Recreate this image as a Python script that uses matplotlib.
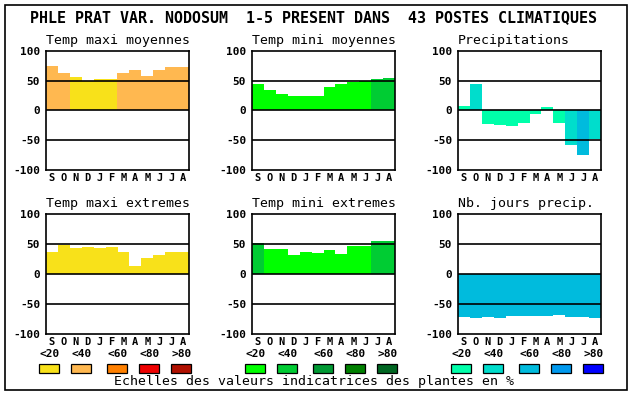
import matplotlib.pyplot as plt
from matplotlib.patches import Rectangle

# valeurs
mois = ["S", "O", "N", "D", "J", "F", "M", "A", "M", "J", "J", "A"]

temp_maxi_moy = [74, 62, 56, 50, 52, 52, 62, 67, 57, 67, 72, 72]
temp_maxi_moy_cls = [1, 1, 0, 0, 0, 0, 1, 1, 1, 1, 1, 1]

temp_mini_moy = [44, 34, 27, 25, 25, 25, 40, 44, 47, 49, 52, 55]
temp_mini_moy_cls = [0, 0, 0, 0, 0, 0, 0, 0, 0, 0, 1, 1]

precip = [7, 44, -23, -25, -26, -21, -6, 5, -21, -57, -75, -47]
precip_cls = [0, 1, 0, 0, 0, 0, 0, 0, 0, 1, 2, 1]

temp_maxi_ext = [37, 48, 43, 45, 43, 45, 37, 13, 27, 32, 37, 37]
temp_maxi_ext_cls = [0] * 12

temp_mini_ext = [52, 42, 42, 32, 37, 35, 40, 33, 47, 47, 55, 55]
temp_mini_ext_cls = [1, 0, 0, 0, 0, 0, 0, 0, 0, 0, 1, 1]

nb_jours = [-72, -73, -72, -73, -71, -71, -71, -71, -68, -72, -72, -73]
nb_jours_cls = [2] * 12

classes = ["<20", "<40", "<60", "<80", ">80"]
couleurs_temp = ["#F8E11A", "#FFB850", "#FF8000", "#EE0000", "#B01000"]
couleurs_vert = ["#00FF00", "#00CC33", "#009933", "#008000", "#006622"]
couleurs_bleu = ["#00FFAA", "#00DDCC", "#00BBDD", "#0099EE", "#0000FF"]

titre = "PHLE PRAT VAR. NODOSUM  1-5 PRESENT DANS  43 POSTES CLIMATIQUES"
pied = "Echelles des valeurs indicatrices des plantes en %"

W, H = 630, 394
MONO = "DejaVu Sans Mono"

fig = plt.figure(figsize=(W / 100, H / 100), dpi=100)

# fond en coordonnees pixel
bg = fig.add_axes([0, 0, 1, 1])
bg.set_xlim(0, W)
bg.set_ylim(H, 0)
bg.axis("off")


def panel(left, top, values, cls, pal, title):
    ax = fig.add_axes([left / W, 1 - (top + 119.5) / H, 143.6 / W, 119.5 / H])
    ax.bar(range(12), values, width=1.0, color=[pal[c] for c in cls],
           linewidth=0, zorder=1)
    for y in (50, 0, -50):
        ax.axhline(y, color="black", lw=1.2, zorder=2)
    ax.set_xlim(-0.5, 11.5)
    ax.set_ylim(-100, 100)
    ax.set_yticks([-100, -50, 0, 50, 100])
    ax.set_yticklabels(["-100", "-50", "0", "50", "100"],
                       family=MONO, weight="bold", fontsize=8)
    ax.set_xticks(range(12))
    ax.set_xticklabels(mois, family=MONO, weight="bold", fontsize=7.5)
    ax.tick_params(axis="y", length=0, pad=4)
    ax.tick_params(axis="x", length=0, pad=2)
    for s in ax.spines.values():
        s.set_linewidth(1.2)
        s.set_zorder(3)
    ax.text(0, 1.035, title, transform=ax.transAxes, family=MONO,
            fontsize=9.5, ha="left", va="bottom")
    return ax


lefts = [45.7, 251.7, 457.7]
panel(lefts[0], 50.7, temp_maxi_moy, temp_maxi_moy_cls, couleurs_temp, "Temp maxi moyennes")
panel(lefts[1], 50.7, temp_mini_moy, temp_mini_moy_cls, couleurs_vert, "Temp mini moyennes")
panel(lefts[2], 50.7, precip, precip_cls, couleurs_bleu, "Precipitations")
panel(lefts[0], 214.3, temp_maxi_ext, temp_maxi_ext_cls, couleurs_temp, "Temp maxi extremes")
panel(lefts[1], 214.3, temp_mini_ext, temp_mini_ext_cls, couleurs_vert, "Temp mini extremes")
panel(lefts[2], 214.3, nb_jours, nb_jours_cls, couleurs_bleu, "Nb. jours precip.")

# legendes
offsets = [0, 32, 68, 100, 132]
for left, pal in zip(lefts, [couleurs_temp, couleurs_vert, couleurs_bleu]):
    for off, lab, col in zip(offsets, classes, pal):
        x0 = left - 6.4 + off
        bg.add_patch(Rectangle((x0, 364), 20, 9.3, facecolor=col,
                               edgecolor="black", lw=0.9))
        bg.text(x0 + 10, 354, lab, family=MONO, weight="bold", fontsize=8,
                ha="center", va="center")

bg.text(314, 18, titre, family=MONO, weight="bold", fontsize=10.8,
        ha="center", va="center")
bg.text(314, 382, pied, family=MONO, fontsize=9.5, ha="center", va="center")

bg.add_patch(Rectangle((4.5, 4.5), 622, 385.5, facecolor="none",
                       edgecolor="black", lw=1.2))

fig.savefig("out.png", dpi=100)
